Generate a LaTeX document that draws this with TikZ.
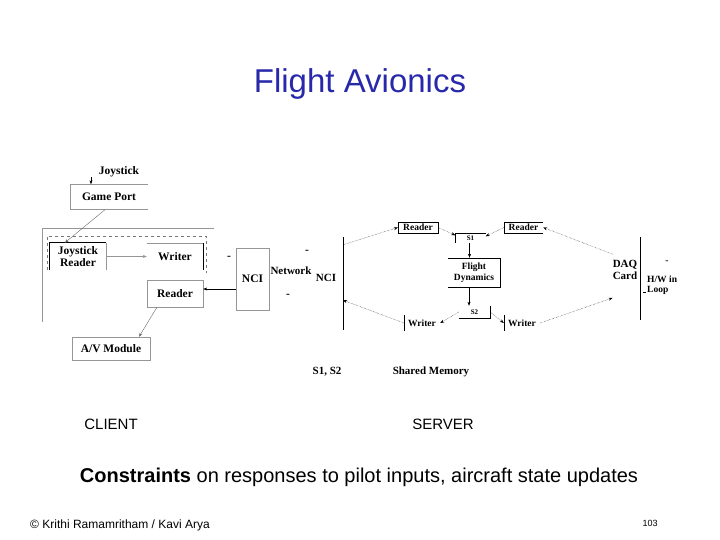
\documentclass[tikz,border=0pt]{standalone}
\usepackage{fontspec}
\setmainfont{Liberation Serif}
\setsansfont{Liberation Sans}
\usetikzlibrary{arrows.meta,positioning,calc}
\definecolor{titleblue}{RGB}{40,40,170}
\definecolor{lineg}{RGB}{150,150,150}

\begin{document}
\begin{tikzpicture}[x=1pt,y=-1pt,
  lbl/.style={font=\bfseries\fontsize{11.5}{12}\selectfont, align=center, inner sep=0pt},
  slbl/.style={font=\bfseries\fontsize{9.5}{10.5}\selectfont, align=center, inner sep=0pt},
  arr/.style={-{Stealth[length=4pt,width=3pt]}, thin},
  dot/.style={arr, densely dotted},
  gline/.style={lineg, thin},
  txt/.style={font=\sffamily, inner sep=0pt}
]
\useasboundingbox (0,0) rectangle (720,540);
\node[txt, font=\sffamily\fontsize{33}{36}\selectfont, text=titleblue] (title) at (360,84) {Flight Avionics};

% client side
\node[lbl] (joy) at (119,172) {Joystick};
\node[lbl, minimum width=78pt, minimum height=25pt] (gport) at (109,197) {Game Port};
\draw[gline] (gport.north east) -- (gport.north west) -- (gport.south west) -- (gport.south east);
\draw[gline] (214,228) -- (42,228) -- (42,322);
\draw[lineg!80!black, dashed] (47,270) -- (47,236) -- (206,236) -- (206,273);
\node[lbl, minimum width=56pt, minimum height=27pt] (jread) at (78,256.5) {Joystick\\Reader};
\draw[thick] (jread.south west) -- (jread.north west) -- (jread.north east);
\draw[gline] (jread.north east) -- (jread.south east);
\node[lbl, minimum width=56pt, minimum height=27pt] (cwrite) at (175,256.5) {Writer};
\draw[gline] (cwrite.north west) -- (cwrite.north east);
\draw[thick] (cwrite.north east) -- (cwrite.south east);
\node[lbl, draw=lineg, minimum width=56pt, minimum height=27pt] (cread) at (175,293.5) {Reader};
\node[lbl, draw=lineg, minimum width=78pt, minimum height=23pt] (avmod) at (111,348.5) {A/V Module};
\node[lbl, draw=lineg, minimum width=33pt, minimum height=62pt] (nci) at (252.5,279) {NCI};
\node[slbl, font=\bfseries\fontsize{11}{12}\selectfont] (net) at (291,271) {Network};
\node[slbl, font=\bfseries\fontsize{11}{12}\selectfont] (snci) at (326,278) {NCI};
\node[lbl] (m1) at (229,258) {-};
\node[lbl] (m2) at (307,252) {-};
\node[lbl] (m3) at (288,296) {-};

\draw[arr] ([xshift=-28pt]joy.south) -- ([xshift=-28pt]joy.south |- gport.north);
\draw[arr, lineg!70!black] ([xshift=-4pt]gport.south) -- ([xshift=15pt]jread.north west);
\draw[arr, lineg] (jread.east |- cwrite.east) -- (cwrite.west);
\draw[arr] ([yshift=-10pt]nci.west) -- ([yshift=-10pt]nci.west -| cread.east);
\draw[arr, lineg!70!black] ([xshift=-18pt]cread.south) -- ([xshift=28pt]avmod.north);

% server side
\node[minimum height=93pt, minimum width=0pt, inner sep=0pt] (sbar) at (343,283.5) {};
\draw[thick] (sbar.north) -- (sbar.south);
\node[slbl, draw, minimum width=40pt, minimum height=11pt, inner xsep=3pt] (rdL) at (418,227.5) {Reader};
\node[slbl, minimum width=39pt, minimum height=11pt, inner xsep=3pt] (rdR) at (523.5,227.5) {Reader};
\draw (rdR.north east) -- (rdR.north west) -- (rdR.south west) -- (rdR.south east);
\node[slbl, font=\bfseries\fontsize{7}{8}\selectfont, minimum width=30pt, minimum height=9pt] (s1) at (470.5,238) {S1};
\draw (s1.north east) -- (s1.north west) -- (s1.south west);
\node[slbl, minimum width=52pt, minimum height=29pt] (fdyn) at (474,272.5) {Flight\\Dynamics};
\draw (fdyn.north west) -- (fdyn.north east) -- (fdyn.south east) -- (fdyn.south west);
\node[slbl, font=\bfseries\fontsize{7}{8}\selectfont, minimum width=31pt, minimum height=12pt] (s2) at (474.5,312) {S2};
\draw (s2.south west) -- (s2.south east) -- (s2.north east);
\node[slbl, minimum width=36pt, minimum height=15pt] (wrL) at (422,323) {Writer};
\draw (wrL.north west) -- (wrL.south west);
\node[slbl, minimum width=36pt, minimum height=15pt] (wrR) at (522,323) {Writer};
\draw (wrR.north west) -- (wrR.south west);
\node[slbl, font=\bfseries\fontsize{11}{12}\selectfont] (daq) at (625,270) {DAQ\\Card};
\node[minimum height=83pt, minimum width=0pt, inner sep=0pt] (dbar) at (640,278.5) {};
\draw[thick] (dbar.north) -- (dbar.south);
\node[slbl, anchor=west, align=left] (hw) at (647,285) {H/W in\\Loop};
\node[slbl] (m4) at (667,262) {-};
\draw ([shift={(3pt,-14pt)}]dbar.east) -- ([shift={(6pt,-14pt)}]dbar.east);
\node[slbl, font=\bfseries\fontsize{11}{12}\selectfont] (shv) at (327,372) {S1, S2};
\node[slbl, font=\bfseries\fontsize{11}{12}\selectfont] (shm) at (431,372) {Shared Memory};

\draw[dot] ([yshift=-8pt]sbar.north) -- (rdL.west);
\draw[dot] (rdL.east) -- ([yshift=-2pt]s1.north west);
\draw[dot] (rdR.west) -- ([yshift=-3pt]s1.north east);
\draw[dot] ([yshift=6pt]daq.north west) -- (rdR.east);
\draw[arr] ([xshift=-1pt]s1.south) -- ([xshift=-1pt]s1.south |- fdyn.north);
\draw[arr] ([xshift=-5pt]fdyn.south) -- ([xshift=-5pt]fdyn.south |- s2.north);
\draw[dot] (s2.west) -- (wrL.east);
\draw[dot] (s2.east) -- (wrR.west);
\draw[dot] (wrL.west) -- ([yshift=30pt]sbar.south);
\draw[dot] (wrR.east) -- ([yshift=-18pt]daq.south west);

% captions
\node[txt, font=\sffamily\fontsize{15}{16}\selectfont] (client) at (111,424) {CLIENT};
\node[txt, font=\sffamily\fontsize{15}{16}\selectfont] (server) at (443,424) {SERVER};
\node[txt, font=\sffamily\fontsize{20}{22}\selectfont] (cons) at (359,477) {\textbf{Constraints} on responses to pilot inputs, aircraft state updates};
\node[txt, font=\sffamily\fontsize{12}{13}\selectfont, anchor=west] (copy) at (30,525) {© Krithi Ramamritham / Kavi Arya};
\node[txt, font=\sffamily\fontsize{9}{10}\selectfont] (page) at (650,523) {103};
\end{tikzpicture}
\end{document}
